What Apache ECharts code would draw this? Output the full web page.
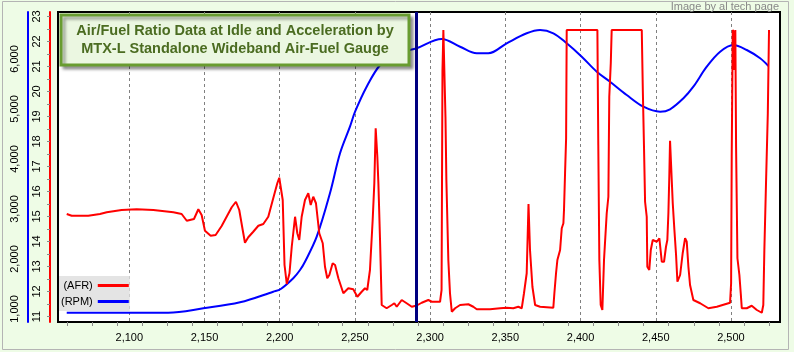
<!DOCTYPE html>
<html><head><meta charset="utf-8">
<script src="https://cdn.jsdelivr.net/npm/echarts@6/dist/echarts.min.js"></script>
<style>html,body{margin:0;padding:0;background:#eefce6;} #c{width:794px;height:352px;}</style>
</head><body><div id="c"></div>
<script>
const xLabelValues = [2100,2150,2200,2250,2300,2350,2400,2450,2500];
const xMinorTicks = [2058.6,2075.3,2091.9,2108.6,2125.3,2141.9,2158.6,2175.3,2191.9,2208.6,2225.3,2241.9,2258.6,2275.3,2291.9,2308.6,2325.3,2341.9,2358.6,2375.3,2391.9,2408.6,2425.3,2441.9,2458.6,2475.3,2491.9,2508.6,2525.3];
const afrLabelValues = [11,12,13,14,15,16,17,18,19,20,21,22,23];
const afrTickValues = [11,11.5,12,12.5,13,13.5,14,14.5,15,15.5,16,16.5,17,17.5,18,18.5,19,19.5,20,20.5,21,21.5,22,22.5,23];
const rpmLabelValues = [1000,2000,3000,4000,5000,6000];
const cursorX = 2291;

const rpmX = [2058.4,2125.9,2149.2,2173.6,2195.7,2200.7,2209.0,2213.5,2216.8,2224.6,2233.4,2240.1,2246.7,2250.1,2257.8,2266.7,2275.5,2286.6,2291.1,2307.7,2319.9,2331.0,2338.7,2350.9,2364.2,2373.1,2381.9,2390.8,2400.8,2410.8,2419.6,2430.7,2441.8,2452.9,2459.5,2468.4,2475.0,2483.9,2492.8,2501.6,2510.5,2519.4,2524.9];
const rpmVal = [926,926,1014,1134,1346,1400,1614,1780,1946,2446,3314,4114,4646,4946,5446,5880,6080,6180,6214,6400,6246,6114,6114,6314,6514,6580,6514,6314,6046,5746,5546,5280,5046,4946,4994,5214,5446,5846,6146,6280,6180,6014,5860];

const afrX = [2058.4,2061.7,2072.7,2080.5,2085.0,2094.9,2104.9,2116.0,2129.3,2134.8,2138.2,2143.0,2145.9,2148.1,2150.3,2154.1,2157.4,2161.4,2168.1,2170.9,2173.1,2175.4,2176.9,2179.1,2182.4,2185.8,2189.1,2192.4,2195.7,2198.4,2199.7,2200.7,2202.0,2203.2,2204.7,2206.5,2208.0,2209.0,2210.2,2211.7,2213.0,2214.6,2216.8,2219.0,2220.6,2222.3,2224.1,2226.3,2228.6,2230.1,2231.6,2233.0,2235.2,2236.8,2239.0,2242.3,2245.6,2248.9,2251.6,2254.5,2256.7,2258.2,2260.0,2261.8,2262.9,2263.8,2264.5,2264.9,2265.6,2266.7,2267.8,2271.1,2274.5,2276.2,2277.8,2281.1,2284.4,2287.8,2291.1,2294.4,2298.8,2301.1,2306.6,2307.6,2307.9,2308.2,2308.8,2309.6,2310.2,2310.8,2312.1,2313.2,2314.4,2316.6,2319.9,2325.4,2328.7,2331.0,2339.8,2346.5,2350.9,2355.3,2358.6,2360.9,2362.4,2364.2,2365.4,2366.4,2368.0,2369.8,2373.1,2381.9,2382.6,2383.7,2384.6,2386.4,2387.5,2388.6,2389.0,2389.7,2390.4,2390.8,2411.2,2411.8,2412.5,2413.4,2414.5,2415.6,2417.4,2418.5,2419.1,2420.1,2420.7,2440.7,2441.4,2442.2,2442.9,2444.0,2444.4,2445.7,2446.7,2448.0,2450.7,2452.4,2454.0,2455.5,2456.8,2457.7,2458.4,2459.0,2459.5,2460.2,2461.3,2462.4,2463.5,2464.4,2466.2,2467.9,2469.5,2470.6,2471.7,2472.8,2475.0,2479.5,2485.0,2490.6,2499.4,2500.1,2500.5,2501.2,2502.1,2502.3,2502.9,2503.4,2504.3,2505.6,2506.5,2507.2,2510.5,2513.8,2517.2,2520.5,2521.5,2522.2,2523.3,2524.5,2525.3];
const afrVal = [15.10,15.03,15.03,15.10,15.17,15.26,15.29,15.26,15.17,15.10,14.83,14.90,15.29,15.06,14.43,14.23,14.26,14.62,15.37,15.59,15.26,14.46,13.95,14.17,14.39,14.63,14.70,14.99,15.73,16.33,16.55,16.53,15.66,13.06,12.30,12.73,13.79,14.33,14.99,14.33,14.06,14.99,15.66,15.93,15.46,15.79,15.53,14.33,13.93,12.99,12.53,12.66,13.13,13.06,12.53,11.93,12.13,12.09,11.79,11.99,12.13,12.06,12.86,14.86,16.33,18.53,18.46,17.39,16.33,14.06,11.46,11.33,11.46,11.53,11.39,11.66,11.53,11.39,11.44,11.55,11.66,11.59,11.59,12.06,16.46,20.82,22.46,22.46,18.98,16.46,13.26,11.93,11.19,11.33,11.46,11.49,11.39,11.29,11.29,11.33,11.35,11.33,11.39,11.33,11.93,12.73,15.50,13.66,12.19,11.46,11.39,11.35,11.93,12.73,13.26,13.66,14.53,14.73,15.26,16.73,18.13,22.46,22.46,17.86,13.26,11.46,11.26,13.26,15.13,15.79,19.79,21.13,22.46,22.46,20.06,17.73,15.59,14.99,12.99,12.86,13.66,14.06,13.99,14.13,13.19,13.19,13.79,14.06,15.13,16.59,18.03,18.03,15.53,14.46,13.46,12.39,12.66,13.53,14.13,13.99,12.99,12.26,11.66,11.53,11.33,11.39,11.55,12.33,17.39,22.46,22.33,20.86,22.46,17.79,13.33,12.66,11.93,11.33,11.33,11.43,11.26,11.15,11.46,13.66,16.33,19.13,22.46];

const rpmData = rpmX.map((x, i) => [x, rpmVal[i]]);
const afrData = afrX.map((x, i) => [x, afrVal[i]]);

const FONT = 'Liberation Sans';
const xMin = 2052.6, xMax = 2532.6;
const fmt = v => Number(v).toLocaleString('en-US');

const chart = echarts.init(document.getElementById('c'), null, {renderer: 'canvas'});
chart.setOption({
  backgroundColor: '#eefce6',
  animation: false,
  grid: [
    {left: 58, right: 14, top: 12, bottom: 30, show: true, backgroundColor: '#ffffff', borderColor: '#000000', borderWidth: 2},
    {left: 58, right: 14, top: 12, bottom: 30, show: false}
  ],
  xAxis: [
    {type: 'value', gridIndex: 0, min: xMin, max: xMax, position: 'bottom',
     axisLine: {show: false}, axisTick: {show: false, customValues: xLabelValues},
     axisLabel: {customValues: xLabelValues, formatter: fmt, color: '#000', fontSize: 11, fontFamily: FONT, margin: 10},
     splitLine: {show: true, lineStyle: {color: '#808080', type: [3, 3], width: 1}}},
    {type: 'value', gridIndex: 1, min: xMin, max: xMax, position: 'bottom',
     axisLine: {show: false}, axisTick: {show: true, customValues: xMinorTicks, length: 4, lineStyle: {color: '#8a8a8a'}},
     axisLabel: {show: false}, splitLine: {show: false}}
  ],
  yAxis: [
    {type: 'value', gridIndex: 0, min: 10.78, max: 23.18, position: 'left', offset: 8,
     axisLine: {show: true, lineStyle: {color: '#ff0000', width: 2}},
     axisTick: {show: true, customValues: afrTickValues, length: 3, lineStyle: {color: '#8a8a8a'}},
     axisLabel: {customValues: afrLabelValues, rotate: 90, color: '#000', fontSize: 11, fontFamily: FONT, margin: 8},
     splitLine: {show: false}},
    {type: 'value', gridIndex: 1, min: 740, max: 6940, position: 'left', offset: 30,
     axisLine: {show: true, lineStyle: {color: '#0000ff', width: 2}},
     axisTick: {show: false},
     axisLabel: {customValues: rpmLabelValues, rotate: 90, formatter: fmt, color: '#000', fontSize: 11, fontFamily: FONT, margin: 8},
     splitLine: {show: false}}
  ],
  legend: {
    data: ['(AFR)', '(RPM)'], orient: 'vertical', left: 59, top: 276, align: 'right',
    backgroundColor: '#e4e4e4', padding: [4, 1, 4, 2], itemGap: 5, itemWidth: 31, itemHeight: 3, icon: 'rect',
    textStyle: {fontSize: 11, color: '#000', fontFamily: FONT, width: 31, align: 'left', padding: [0, 0, 0, 0]}
  },
  graphic: [
    {type: 'rect', shape: {x: 2.5, y: 1.5, width: 786, height: 348}, style: {fill: 'none', stroke: '#b4b4b4', lineWidth: 1}, silent: true, z: 0},
    {type: 'rect', shape: {x: 61, y: 15, width: 348, height: 50}, style: {fill: '#ebf7e1', stroke: '#689c30', lineWidth: 3, shadowBlur: 3, shadowOffsetX: 3, shadowOffsetY: 3, shadowColor: 'rgba(0,0,0,0.35)'}, z: 10},
    {type: 'text', x: 235, y: 30.5, style: {text: 'Air/Fuel Ratio Data at Idle and Acceleration by', textAlign: 'center', textVerticalAlign: 'middle', font: 'bold 14.5px "Liberation Sans"', fill: '#4b6c21'}, z: 11},
    {type: 'text', x: 235, y: 48.5, style: {text: 'MTX-L Standalone Wideband Air-Fuel Gauge', textAlign: 'center', textVerticalAlign: 'middle', font: 'bold 14.5px "Liberation Sans"', fill: '#4b6c21'}, z: 11},
    {type: 'text', x: 779, y: 7, style: {text: 'Image by al tech page', textAlign: 'right', textVerticalAlign: 'middle', font: '11px "Liberation Sans"', fill: '#888888'}, z: 11}
  ],
  series: [
    {name: '(RPM)', type: 'line', xAxisIndex: 1, yAxisIndex: 1, data: rpmData, showSymbol: false, smooth: 0.35,
     lineStyle: {color: '#0000ff', width: 2}, itemStyle: {color: '#0000ff'}},
    {name: '(AFR)', type: 'line', xAxisIndex: 0, yAxisIndex: 0, data: afrData, showSymbol: false, smooth: false,
     lineStyle: {color: '#ff0000', width: 2}, itemStyle: {color: '#ff0000'},
     markLine: {silent: true, symbol: ['none', 'none'], label: {show: false},
       lineStyle: {color: '#000080', width: 3, type: 'solid'}, data: [{xAxis: cursorX}]}}
  ]
});
</script></body></html>
